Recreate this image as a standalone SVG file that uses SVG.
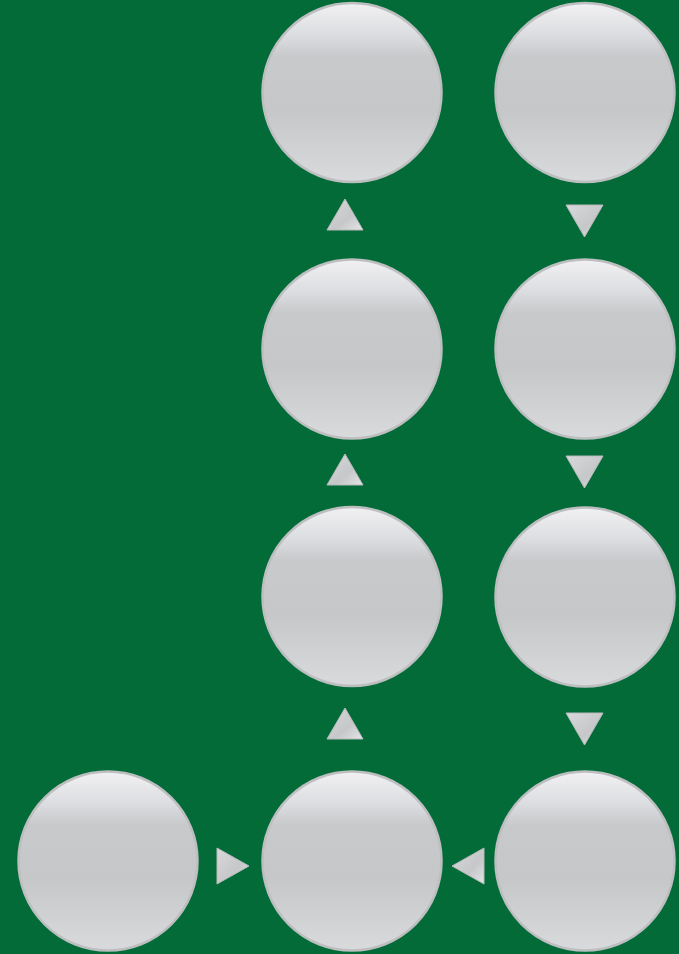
<svg xmlns="http://www.w3.org/2000/svg" width="679" height="954" viewBox="0 0 679 954">
<defs>
<linearGradient id="cg" x1="0" y1="0" x2="0" y2="1">
<stop offset="0" stop-color="#f1f1f3"/>
<stop offset="0.18" stop-color="#dcdde0"/>
<stop offset="0.3" stop-color="#c8c9cb"/>
<stop offset="0.6" stop-color="#c6c7c9"/>
<stop offset="1" stop-color="#d9dadc"/>
</linearGradient>
<linearGradient id="tg" x1="0" y1="0" x2="1" y2="1">
<stop offset="0" stop-color="#d8d9db"/>
<stop offset="0.6" stop-color="#c6c7c9"/>
<stop offset="1" stop-color="#e4e5e7"/>
</linearGradient>
<style>
.node{fill:url(#cg);stroke:#bdbec0;stroke-width:2.5}
.arr{fill:url(#tg);stroke:#b8b9bb;stroke-width:1}
</style>
</defs>
<rect width="679" height="954" fill="#036b38"/>
<g id="n1"><circle class="node" cx="352" cy="92.5" r="89.5"/></g>
<g id="n2"><circle class="node" cx="585" cy="92.5" r="89.5"/></g>
<g id="n3"><circle class="node" cx="352" cy="349" r="89.5"/></g>
<g id="n4"><circle class="node" cx="585" cy="349" r="89.5"/></g>
<g id="n5"><circle class="node" cx="352" cy="596.5" r="89.5"/></g>
<g id="n6"><circle class="node" cx="585" cy="597" r="89.5"/></g>
<g id="n7"><circle class="node" cx="108" cy="861" r="89.5"/></g>
<g id="n8"><circle class="node" cx="352" cy="861" r="89.5"/></g>
<g id="n9"><circle class="node" cx="585" cy="861" r="89.5"/></g>
<g id="connectors">
<polygon class="arr" points="345,199 327,230 363,230"/>
<polygon class="arr" points="345,454 327,485 363,485"/>
<polygon class="arr" points="345,708 327,739 363,739"/>
<polygon class="arr" points="566,205 603,205 584.5,237"/>
<polygon class="arr" points="566,456 603,456 584.5,488"/>
<polygon class="arr" points="566,713 603,713 584.5,745"/>
<polygon class="arr" points="217,848 217,884 249,866"/>
<polygon class="arr" points="484,848 484,884 452,866"/>
</g>
</svg>
